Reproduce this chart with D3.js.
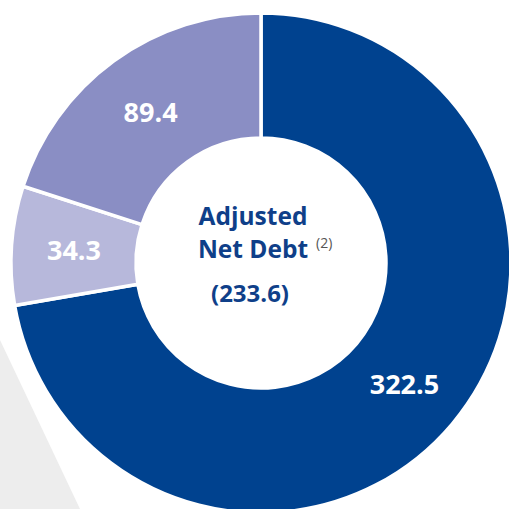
<!DOCTYPE html>
<html>
<head>
<meta charset="utf-8">
<script src="https://cdn.jsdelivr.net/npm/d3@7"></script>
<style>
  html, body { margin: 0; padding: 0; background: #fff; }
  svg { display: block; }
</style>
</head>
<body>
<svg id="chart" width="509" height="509"></svg>
<script>
// slice data, clockwise from 12 o'clock
var labels = ["322.5", "34.3", "89.4"];
var values = [322.5, 34.3, 89.4];
var colors = ["#00428F", "#B7B8DB", "#8A8EC4"];

var centerLines = ["Adjusted", "Net Debt"];
var centerNote = "(2)";
var centerValue = "(233.6)";

var width = 509, height = 509;
var cx = 261, cy = 263;
var outerR = 250, innerR = 125;
var font = "'Open Sans', 'Noto Sans', sans-serif";

var svg = d3.select("#chart");

// light grey band in the lower left corner
svg.append("path")
  .attr("d", "M0,340 L80," + height + " L0," + height + " Z")
  .attr("fill", "#EDEDED");

var pie = d3.pie().sort(null).value(function(d) { return d; });
var arc = d3.arc().innerRadius(innerR).outerRadius(outerR);

var g = svg.append("g").attr("transform", "translate(" + cx + "," + cy + ")");

var slices = pie(values);

g.selectAll("path.slice")
  .data(slices)
  .enter()
  .append("path")
  .attr("class", "slice")
  .attr("d", arc)
  .attr("fill", function(d, i) { return colors[i]; })
  .attr("stroke", "#fff")
  .attr("stroke-width", 3.5);

g.selectAll("text.lbl")
  .data(slices)
  .enter()
  .append("text")
  .attr("class", "lbl")
  .attr("transform", function(d) {
    var c = arc.centroid(d);
    return "translate(" + c[0] + "," + c[1] + ")";
  })
  .attr("text-anchor", "middle")
  .attr("dy", "0.38em")
  .attr("fill", "#fff")
  .attr("font-family", font)
  .attr("font-weight", "bold")
  .attr("font-size", 27)
  .text(function(d, i) { return labels[i]; });

// centre text
var ct = g.append("g")
  .attr("font-family", font)
  .attr("font-weight", "bold")
  .attr("fill", "#0F3F89");

ct.append("text")
  .attr("x", -8).attr("y", -38)
  .attr("text-anchor", "middle")
  .attr("font-size", 24.5)
  .text(centerLines[0]);

ct.append("text")
  .attr("x", -8).attr("y", -5)
  .attr("text-anchor", "middle")
  .attr("font-size", 24.5)
  .text(centerLines[1]);

ct.append("text")
  .attr("x", 55).attr("y", -15)
  .attr("font-size", 14)
  .attr("font-weight", "normal")
  .attr("fill", "#555")
  .text(centerNote);

ct.append("text")
  .attr("x", -11).attr("y", 39)
  .attr("text-anchor", "middle")
  .attr("font-size", 24)
  .text(centerValue);
</script>
</body>
</html>
